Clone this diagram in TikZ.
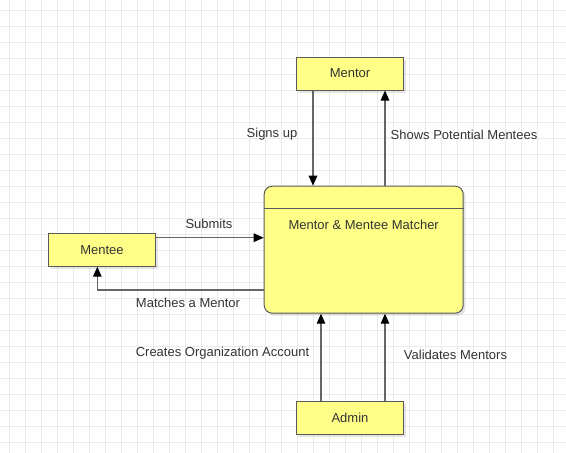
\documentclass[tikz,border=0pt]{standalone}
\usepackage{fontspec}
\setmainfont{Liberation Sans}
\usetikzlibrary{arrows.meta}
\usetikzlibrary{shadows}
\definecolor{boxfill}{HTML}{FFFF88}
\definecolor{boxedge}{HTML}{5A5A5A}
\definecolor{flowgray}{HTML}{666666}
\definecolor{textgray}{HTML}{333333}
\definecolor{gridgray}{HTML}{EBEBEB}

\begin{document}
\begin{tikzpicture}[x=1pt,y=-1pt,
every node/.style={font=\fontsize{13}{15}\selectfont,text=textgray},
entity/.style={draw=boxedge,fill=boxfill,line width=1pt,minimum width=107pt,minimum height=33pt,
    drop shadow={shadow xshift=2.5pt,shadow yshift=-2.5pt,opacity=0.2}},
process/.style={entity,rounded corners=8pt,minimum width=199pt,minimum height=127pt},
flow/.style={draw=flowgray,line width=1.4pt,-{Triangle[length=10pt,width=8.5pt,black]}}]
      \useasboundingbox (0,0) rectangle (566,453);
      \fill[white] (0,0) rectangle (566,453);
      \draw[gridgray,line width=0.8pt] foreach \i in {0,...,34} {(9+16*\i,0) -- (9+16*\i,453)};
      \draw[gridgray,line width=0.8pt] foreach \j in {0,...,27} {(0,10+16*\j) -- (566,10+16*\j)};
      \node[entity] (mentor) at (350,73.5) {Mentor};
      \node[entity] (mentee) at (102,249.7) {Mentee};
      \node[entity] (admin) at (350,418) {Admin};
      \node[process] (matcher) at (363.7,249.7) {};
      \draw[boxedge,line width=1pt] ([yshift=-22.7pt]matcher.north west) -- ([yshift=-22.7pt]matcher.north east);
      \node (matchername) at (363.7,224.5) {Mentor \& Mentee Matcher};
      \draw[flow] ([xshift=-37pt]mentor.south) -- ([xshift=-37pt]mentor.south |- matcher.north);
      \draw[flow] ([xshift=35pt]mentor.south |- matcher.north) -- ([xshift=35pt]mentor.south);
      \draw[flow] ([yshift=12pt]mentee.east) -- ([yshift=12pt]mentee.east -| matcher.west);
      \draw[flow] ([yshift=-40.3pt]matcher.west) -| ([xshift=-4.7pt]mentee.south);
      \draw[flow] ([xshift=-29pt]admin.north) -- ([xshift=-29pt]admin.north |- matcher.south);
      \draw[flow] ([xshift=35pt]admin.north) -- ([xshift=35pt]admin.north |- matcher.south);
      \node (signsup) at (272,134.5) {Signs up};
      \node (shows) at (464,134.5) {Shows Potential Mentees};
      \node (submits) at (209,224) {Submits};
      \node (matches) at (188,302.5) {Matches a Mentor};
      \node (creates) at (222.5,353.5) {Creates Organization Account};
      \node (validates) at (455.5,354.5) {Validates Mentors};
\end{tikzpicture}
\end{document}
